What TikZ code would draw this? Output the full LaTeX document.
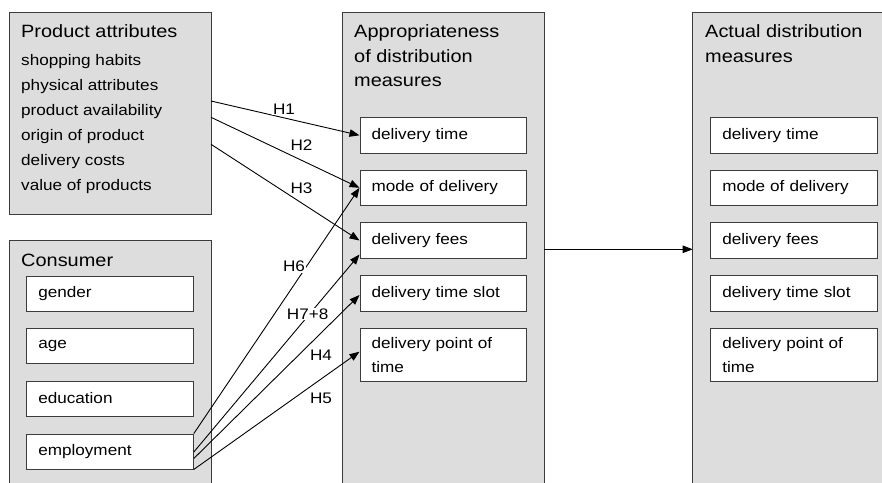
\documentclass[tikz,border=0pt]{standalone}
\usepackage{fontspec}
\setmainfont{Liberation Sans}[FakeStretch=1.12]
\usetikzlibrary{arrows.meta}
\definecolor{panel}{RGB}{221,221,221}
\definecolor{edge}{RGB}{60,60,60}
\tikzset{
  panelbox/.style={draw=edge, line width=0.9pt, fill=panel},
  ibox/.style={draw=edge, line width=0.9pt, fill=white, minimum width=166.7pt,
    minimum height=35.5pt, text width=143.5pt, inner xsep=11.6pt, inner ysep=0pt,
    align=left, font=\fontsize{15.3}{24}\selectfont, anchor=center},
  ttl/.style={anchor=base west, inner sep=0pt, font=\fontsize{17.8}{24}\selectfont},
  itm/.style={anchor=base west, inner sep=0pt, font=\fontsize{15.3}{24}\selectfont},
  hyp/.style={-{Triangle[length=10pt,width=7.5pt]}, line width=0.9pt, black},
  hlab/.style={fill=white, inner sep=0.6pt, font=\fontsize{15.3}{18}\selectfont}
}
\begin{document}
\begin{tikzpicture}[x=1pt,y=-1pt]
\useasboundingbox (0,0) rectangle (882,482);
\clip (0,0) rectangle (882,482);
\fill[white] (0,0) rectangle (882,482);
% panels
\draw[panelbox] (9,12.3) rectangle (211,214) coordinate (pa);
\draw[panelbox] (9,240.7) rectangle (211,500);
\draw[panelbox] (342.7,12.3) rectangle (544.3,500);
\draw[panelbox] (692.7,12.3) rectangle (900,500);
% product attributes
\node[ttl] (patitle) at (21,37.7) {Product attributes};
\node[itm] (pa1) at (21,65) {shopping habits};
\node[itm] (pa2) at (21,90) {physical attributes};
\node[itm] (pa3) at (21,115) {product availability};
\node[itm] (pa4) at (21,140) {origin of product};
\node[itm] (pa5) at (21,165) {delivery costs};
\node[itm] (pa6) at (21,190) {value of products};
\coordinate (s1) at (211,101);
\coordinate (s2) at (211,117.3);
\coordinate (s3) at (211,144.3);
% consumer
\node[ttl] (ctitle) at (21,266.7) {Consumer};
\node[ibox, minimum height=35pt] (gender) at (110,293.5) {gender};
\node[ibox, minimum height=35pt] (age) at (110,345.8) {age};
\node[ibox, minimum height=35pt] (edu) at (110,398.5) {education};
\node[ibox, minimum height=35pt] (emp) at (110,451.5) {employment};
% appropriateness
\node[ttl] (atitle1) at (354,37) {Appropriateness};
\node[ttl] (atitle2) at (354,62) {of distribution};
\node[ttl] (atitle3) at (354,86) {measures};
\node[ibox] (a1) at (443.3,135.3) {delivery time};
\node[ibox] (a2) at (443.3,187.8) {mode of delivery};
\node[ibox] (a3) at (443.3,240.5) {delivery fees};
\node[ibox] (a4) at (443.3,293.5) {delivery time slot};
\node[ibox, minimum height=52.7pt] (a5) at (443.3,354.7) {delivery point of\\time};
% actual
\node[ttl] (ttitle1) at (705,37.3) {Actual distribution};
\node[ttl] (ttitle2) at (705,62.3) {measures};
\node[ibox] (b1) at (794,135.3) {delivery time};
\node[ibox] (b2) at (794,187.8) {mode of delivery};
\node[ibox] (b3) at (794,240.5) {delivery fees};
\node[ibox] (b4) at (794,293.5) {delivery time slot};
\node[ibox, minimum height=52.7pt] (b5) at (794,354.7) {delivery point of\\time};
% arrows from product attributes
\draw[hyp] (s1) -- (a1.west);
\draw[hyp] (s2) -- (a2.west);
\draw[hyp] (s3) -- (a3.west);
% arrows from employment
\draw[hyp] (emp.north east) -- (a2.west);
\draw[hyp] ([yshift=-0.5pt]emp.east) -- ([yshift=-14pt]a3.west);
\draw[hyp] ([yshift=-7pt]emp.east) -- ([yshift=-1.5pt]a4.west);
\draw[hyp] (emp.south east) -- ([yshift=3pt]a5.west);
% arrow between panels
\coordinate (m1) at (544.3,249.3);
\coordinate (m2) at (692.7,249.3);
\draw[hyp] (m1) -- (m2);
% labels
\node[hlab] (h1) at (284,109) {H1};
\node[hlab] (h2) at (301.5,145) {H2};
\node[hlab] (h3) at (301.5,188) {H3};
\node[hlab] (h6) at (294,266.7) {H6};
\node[hlab] (h78) at (307.7,314) {H7+8};
\node[hlab] (h4) at (321,355) {H4};
\node[hlab] (h5) at (321,398.7) {H5};
\end{tikzpicture}
\end{document}
